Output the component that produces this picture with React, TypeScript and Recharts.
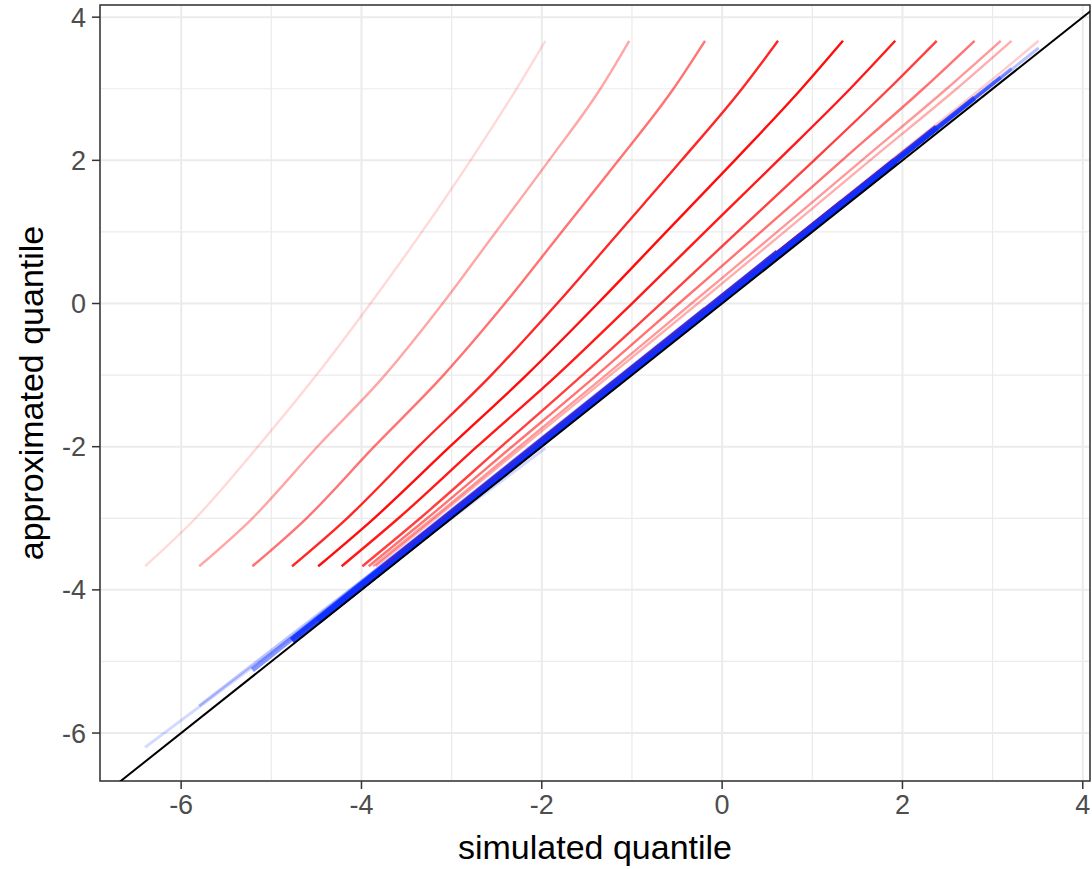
import { CartesianGrid, Label, Line, LineChart, ReferenceArea, XAxis, YAxis } from "recharts"

// approximated quantile levels shared by every red curve
const quantileLevels = [-3.67, -3, -2, -1, 0, 1, 2, 3, 3.67]

// simulated quantile of each red curve at those levels
const redX1 = [-6.4, -5.84, -5.15, -4.5, -3.9, -3.33, -2.79, -2.28, -1.96]
const redX2 = [-5.8, -5.21, -4.49, -3.74, -3.1, -2.51, -1.92, -1.35, -1.03]
const redX3 = [-5.21, -4.61, -3.86, -3.09, -2.41, -1.78, -1.15, -0.54, -0.19]
const redX4 = [-4.77, -4.16, -3.37, -2.56, -1.83, -1.14, -0.45, 0.22, 0.62]
const redX5 = [-4.48, -3.86, -3.02, -2.17, -1.38, -0.62, 0.14, 0.88, 1.34]
const redX6 = [-4.22, -3.59, -2.72, -1.83, -1.0, -0.19, 0.62, 1.42, 1.92]
const redX7 = [-3.99, -3.35, -2.45, -1.55, -0.68, 0.17, 1.02, 1.85, 2.38]
const redX8 = [-3.92, -3.27, -2.33, -1.39, -0.48, 0.43, 1.33, 2.23, 2.8]
const redX9 = [-3.87, -3.21, -2.25, -1.29, -0.34, 0.61, 1.55, 2.49, 3.09]
const redX10 = [-3.84, -3.18, -2.21, -1.24, -0.27, 0.69, 1.64, 2.6, 3.21]
const redX11 = [-3.77, -3.1, -2.11, -1.11, -0.12, 0.88, 1.87, 2.87, 3.51]

// blue segments: start and end points
const blueStartX = [-6.4, -5.8, -5.21, -4.77, -4.48, -4.22, -3.99, -3.92, -3.87, -3.84, -3.77]
const blueStartY = [-6.2, -5.62, -5.12, -4.71, -4.43, -4.17, -3.94, -3.87, -3.82, -3.79, -3.73]
const blueEndX = [-1.96, -1.03, -0.19, 0.62, 1.34, 1.92, 2.38, 2.8, 3.09, 3.21, 3.51]
const blueEndY = [-2.02, -1.0, -0.08, 0.71, 1.41, 1.99, 2.46, 2.87, 3.16, 3.28, 3.57]

// y = x reference
const identityX = [-7, 4.3]

const xTicks = [-6, -4, -2, 0, 2, 4]
const yTicks = [-6, -4, -2, 0, 2, 4]
const xMinor = [-5, -3, -1, 1, 3]
const yMinor = [-5, -3, -1, 1, 3]

const xDomain: [number, number] = [-6.9, 4.08]
const yDomain: [number, number] = [-6.67, 4.17]

// styling per curve
const redOpacity = [0.15, 0.35, 0.55, 0.85, 0.95, 0.9, 0.75, 0.55, 0.4, 0.32, 0.2]
const blueOpacity = [0.18, 0.28, 0.5, 0.9, 1, 1, 0.9, 0.7, 0.5, 0.4, 0.3]
const blueWidth = [3, 3, 5, 7, 7, 7, 6, 5, 4, 3.5, 3]

const redCurves = [redX1, redX2, redX3, redX4, redX5, redX6, redX7, redX8, redX9, redX10, redX11]

function YTitle(props: any) {
  const vb = props.viewBox ?? { x: 0, y: 5, width: 100, height: 776 }
  const cx = vb.x + 43
  const cy = vb.y + vb.height / 2
  return (
    <text x={cx} y={cy} transform={`rotate(-90 ${cx} ${cy})`} textAnchor="middle" fontSize={34} fill="#000">
      approximated quantile
    </text>
  )
}

export default function App() {
  const red = redCurves.map((xs) => quantileLevels.map((y, i) => ({ x: xs[i], y })))
  const blue = blueStartX.map((_, i) => [
    { x: blueStartX[i], y: blueStartY[i] },
    { x: blueEndX[i], y: blueEndY[i] },
  ])
  const identity = identityX.map((v) => ({ x: v, y: v }))

  return (
    <div
      style={{
        position: "absolute",
        left: 0,
        top: 0,
        width: 1092,
        height: 869,
        background: "#fff",
        fontFamily: "'Liberation Sans', Arial, Helvetica, sans-serif",
      }}
    >
      <LineChart width={1092} height={869} margin={{ top: 5, right: 2, bottom: 0, left: 0 }}>
        <CartesianGrid stroke="#ebebeb" strokeWidth={1.2} horizontalValues={yMinor} verticalValues={xMinor} />
        <CartesianGrid stroke="#ebebeb" strokeWidth={2} />
        <XAxis
          type="number"
          dataKey="x"
          domain={xDomain}
          allowDataOverflow
          ticks={xTicks}
          interval={0}
          height={88}
          tickSize={8}
          tickMargin={6}
          axisLine={false}
          tickLine={{ stroke: "#333333", strokeWidth: 1.5 }}
          tick={{ fill: "#4d4d4d", fontSize: 27 }}
        >
          <Label value="simulated quantile" position="insideBottom" offset={10} fontSize={34} fill="#000" />
        </XAxis>
        <YAxis
          type="number"
          dataKey="y"
          domain={yDomain}
          allowDataOverflow
          ticks={yTicks}
          interval={0}
          width={100}
          tickSize={8}
          tickMargin={6}
          axisLine={false}
          tickLine={{ stroke: "#333333", strokeWidth: 1.5 }}
          tick={{ fill: "#4d4d4d", fontSize: 27 }}
        >
          <Label content={YTitle} />
        </YAxis>
        {blue.map((d, i) => (
          <Line
            key={`b${i}`}
            data={d}
            dataKey="y"
            type="linear"
            stroke="#1030ff"
            strokeOpacity={blueOpacity[i]}
            strokeWidth={blueWidth[i]}
            strokeLinecap="butt"
            dot={false}
            activeDot={false}
            isAnimationActive={false}
          />
        ))}
        {red.map((d, i) => (
          <Line
            key={`r${i}`}
            data={d}
            dataKey="y"
            type="monotone"
            stroke="#ff0000"
            strokeOpacity={redOpacity[i]}
            strokeWidth={2.4}
            dot={false}
            activeDot={false}
            isAnimationActive={false}
          />
        ))}
        <Line
          data={identity}
          dataKey="y"
          type="linear"
          stroke="#000"
          strokeWidth={2}
          dot={false}
          activeDot={false}
          isAnimationActive={false}
        />
        <ReferenceArea
          x1={xDomain[0]}
          x2={xDomain[1]}
          y1={yDomain[0]}
          y2={yDomain[1]}
          fill="none"
          stroke="#333333"
          strokeWidth={1.5}
          ifOverflow="visible"
        />
      </LineChart>
    </div>
  )
}
